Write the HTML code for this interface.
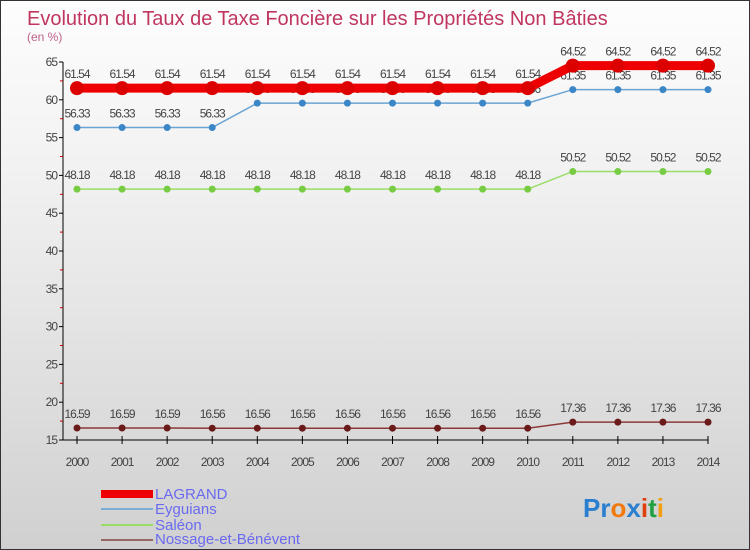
<!DOCTYPE html>
<html><head><meta charset="utf-8"><style>
body{margin:0}
#c{width:750px;height:550px;position:relative;overflow:hidden;font-family:"Liberation Sans",sans-serif;background:linear-gradient(#fdfdfd,#f2f2f2 30%,#d0d0d0);box-sizing:border-box;border:1px solid #333}
</style></head><body>
<div id="c">
<svg id="s" width="750" height="550" style="position:absolute;left:0;top:0">
<text x="26" y="24" font-size="20" fill="#c0365f">Evolution du Taux de Taxe Foncière sur les Propriétés Non Bâties</text>
<text x="26" y="40" font-size="12" fill="#c0608a">(en %)</text>
<g id="ax"></g><g id="ser"></g>
<g>
<rect x="100" y="489" width="52" height="8" fill="#e00"/>
<text x="154" y="498" font-size="15" fill="#6a6af0">LAGRAND</text>
<rect x="100" y="507" width="52" height="2" fill="#7aaed6"/>
<text x="154" y="513" font-size="15" fill="#6a6af0">Eyguians</text>
<rect x="100" y="523" width="52" height="2" fill="#99dd66"/>
<text x="154" y="529" font-size="15" fill="#6a6af0">Saléon</text>
<rect x="100" y="538" width="52" height="2" fill="#996666"/>
<text x="154" y="543" font-size="15" fill="#6a6af0">Nossage-et-Bénévent</text>
</g>
<text x="582" y="516" font-size="26" font-weight="bold"><tspan fill="#2a7fd0">Pr</tspan><tspan fill="#f07a10">o</tspan><tspan fill="#2a7fd0">x</tspan><tspan fill="#e04010">i</tspan><tspan fill="#20a040">t</tspan><tspan fill="#f0a010">i</tspan></text>
</svg>
</div>
<script>
const years=[2000,2001,2002,2003,2004,2005,2006,2007,2008,2009,2010,2011,2012,2013,2014];
const lagrand=[61.54,61.54,61.54,61.54,61.54,61.54,61.54,61.54,61.54,61.54,61.54,64.52,64.52,64.52,64.52];
const eyguians=[56.33,56.33,56.33,56.33,59.56,59.56,59.56,59.56,59.56,59.56,59.56,61.35,61.35,61.35,61.35];
const saleon=[48.18,48.18,48.18,48.18,48.18,48.18,48.18,48.18,48.18,48.18,48.18,50.52,50.52,50.52,50.52];
const nossage=[16.59,16.59,16.59,16.56,16.56,16.56,16.56,16.56,16.56,16.56,16.56,17.36,17.36,17.36,17.36];
const yTicks=[15,20,25,30,35,40,45,50,55,60,65];
const NS="http://www.w3.org/2000/svg";
const X=i=>76+i*(707-76)/(years.length-1);
const Y=v=>439-(v-15)*(439-61)/50;
function el(t,a,p){const e=document.createElementNS(NS,t);for(const k in a)e.setAttribute(k,a[k]);p.appendChild(e);return e;}
const ax=document.getElementById('ax'),ser=document.getElementById('ser');
let l=el('line',{x1:62,y1:Y(65),x2:62,y2:439,stroke:'#000'},ax);


l=el('line',{x1:62,y1:439,x2:707,y2:439,stroke:'#000'},ax);


yTicks.forEach(v=>{
 el('line',{x1:58,x2:62,y1:Y(v),y2:Y(v),stroke:'#000'},ax);
 if(v<65)el('line',{x1:59,x2:62,y1:Y(v+2.5),y2:Y(v+2.5),stroke:'#c00'},ax);
 const t=el('text',{x:56,y:Y(v)+4,'font-size':12,fill:'#444','text-anchor':'end','letter-spacing':'-1'},ax);t.textContent=v;
 
 
});
years.forEach((y,i)=>{
 el('line',{x1:X(i),x2:X(i),y1:435,y2:443,stroke:'#000'},ax);
 const t=el('text',{x:X(i),y:465,'font-size':12,fill:'#444','text-anchor':'middle','letter-spacing':'-1'},ax);t.textContent=y;
 
 
});
function series(d,name,color,w,r,lab){
 const g=el('g',{},ser);
 
 
 const p=el('polyline',{points:d.map((v,i)=>X(i)+','+Y(v)).join(' '),fill:'none',stroke:color,'stroke-width':w},g);
 
 
 d.forEach((v,i)=>{
  const c=el('circle',{cx:X(i),cy:Y(v),r:r,fill:lab},g);
  
  
  const t=el('text',{x:X(i),y:Y(v)-10,'font-size':12,fill:'#444','text-anchor':'middle','letter-spacing':'-1'},g);t.textContent=v.toFixed(2);
  
  
 });
}
series(nossage,'nossage','#8b3a3a',1.5,3.5,'#6b1a1a');
series(saleon,'saleon','#99dd66',1.5,3.5,'#77cc44');
series(eyguians,'eyguians','#6aa4d4',1.5,3.5,'#3a86c6');
series(lagrand,'lagrand','#ee0000',9,7,'#dd0000');
</script>
</body></html>
